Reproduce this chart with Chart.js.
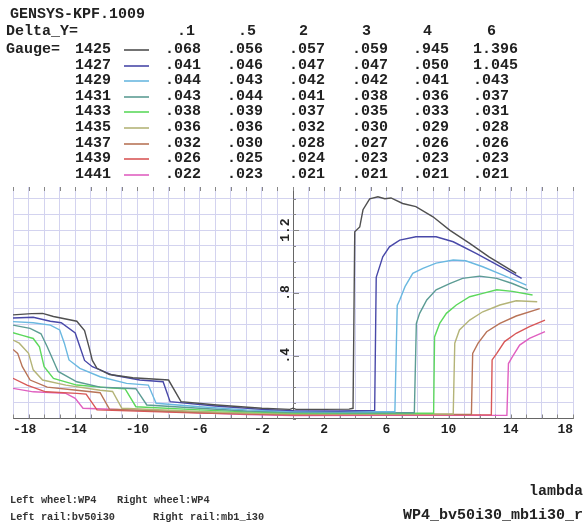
<!DOCTYPE html>
<html>
<head>
<meta charset="utf-8">
<script src="https://cdn.jsdelivr.net/npm/chart.js@4.4.0/dist/chart.umd.min.js"></script>
<style>
body { margin: 0; background: #fff; }
#wrap { position: relative; width: 587px; height: 524px; overflow: hidden;
        font-family: "Liberation Mono", "Courier New", monospace; font-weight: bold; color: #222; }
#wrap canvas { position: absolute; left: 0; top: 0; }
.t { position: absolute; white-space: pre; font-size: 15px; line-height: 18px; }
.s { position: absolute; white-space: pre; font-size: 10.3px; line-height: 12px; color: #333; }
.ln { position: absolute; height: 2px; width: 25px; opacity: 0.8; }
</style>
</head>
<body>
<div id="wrap">
  <canvas id="myChart" width="587" height="524"></canvas>
</div>
<script>
// header table
const title = 'GENSYS-KPF.1009';
const deltaY = ['.1', '.5', '2', '3', '4', '6'];
const gauges = [1425, 1427, 1429, 1431, 1433, 1435, 1437, 1439, 1441];
const tableValues = [
    ['.068', '.056', '.057', '.059', '.945', '1.396'],
    ['.041', '.046', '.047', '.047', '.050', '1.045'],
    ['.044', '.043', '.042', '.042', '.041', '.043'],
    ['.043', '.044', '.041', '.038', '.036', '.037'],
    ['.038', '.039', '.037', '.035', '.033', '.031'],
    ['.036', '.036', '.032', '.030', '.029', '.028'],
    ['.032', '.030', '.028', '.027', '.026', '.026'],
    ['.026', '.025', '.024', '.023', '.023', '.023'],
    ['.022', '.023', '.021', '.021', '.021', '.021']
];
const colors = ['#505050', '#4848a8', '#6ab8e0', '#5c9c94', '#5cd85c', '#b4b478', '#b87458', '#d85858', '#e060c0'];

// curves, [lambda, value]
const s1425 = [[-18,0.66],[-16.8,0.668],[-16.1,0.67],[-15.4,0.65],[-13.9,0.62],[-13.4,0.56],[-13.1,0.45],[-12.9,0.37],[-12.6,0.32],[-11.8,0.28],[-10.3,0.26],[-8.0,0.245],[-7.2,0.107],[-4.9,0.086],[-2,0.065],[-0.2,0.058],[0,0.066],[0.2,0.058],[2,0.058],[3.6,0.06],[3.86,0.065],[3.97,1.19],[4.29,1.22],[4.5,1.33],[4.93,1.40],[5.46,1.413],[5.9,1.40],[6.3,1.405],[7.05,1.37],[7.9,1.35],[9.0,1.285],[10.07,1.20],[11.36,1.116],[12.6,1.03],[14.35,0.925]];
const s1427 = [[-18,0.64],[-16.7,0.645],[-15.6,0.62],[-14.9,0.61],[-14.0,0.545],[-13.7,0.457],[-13.4,0.37],[-12.9,0.33],[-11.6,0.277],[-9.85,0.245],[-8.35,0.234],[-7.9,0.107],[-5,0.08],[-2,0.058],[0,0.05],[3,0.048],[5.25,0.052],[5.35,0.90],[5.77,1.03],[6.2,1.094],[6.86,1.137],[7.9,1.158],[9.2,1.158],[10.3,1.126],[11.8,1.05],[13.1,0.98],[14.7,0.893]];
const s1429 = [[-18,0.617],[-16.7,0.61],[-15.6,0.595],[-15.0,0.564],[-14.7,0.48],[-14.4,0.373],[-13.7,0.32],[-12.4,0.266],[-10.7,0.224],[-9.3,0.213],[-8.8,0.097],[-6,0.075],[-3,0.055],[0,0.045],[3,0.043],[6.55,0.043],[6.7,0.72],[6.86,0.755],[7.2,0.84],[7.7,0.925],[8.35,0.957],[9.2,0.99],[10.3,1.01],[11.1,1.005],[12.2,0.967],[13.5,0.914],[15.0,0.85]];
const s1431 = [[-18,0.595],[-17.5,0.585],[-16.9,0.574],[-16.2,0.54],[-15.8,0.457],[-15.1,0.30],[-13.9,0.234],[-12.4,0.20],[-10.1,0.19],[-9.4,0.086],[-6,0.065],[-3,0.048],[0,0.04],[4,0.037],[7.8,0.037],[7.93,0.606],[8.14,0.67],[8.6,0.755],[9.2,0.82],[10.07,0.86],[10.9,0.893],[12.0,0.907],[13.1,0.893],[14.1,0.86],[15.1,0.82]];
const s1433 = [[-18,0.547],[-17.4,0.53],[-16.7,0.51],[-16.3,0.457],[-16.0,0.33],[-15.4,0.256],[-13.9,0.213],[-11.8,0.195],[-10.8,0.19],[-10.1,0.075],[-6,0.055],[-3,0.042],[0,0.035],[4,0.033],[9.04,0.033],[9.1,0.52],[9.43,0.606],[9.86,0.67],[10.5,0.723],[11.36,0.776],[12.2,0.797],[13.1,0.82],[14.1,0.81],[15.4,0.787]];
const s1435 = [[-18,0.50],[-17.6,0.48],[-17.0,0.415],[-16.7,0.31],[-16.1,0.245],[-14.6,0.213],[-12.4,0.18],[-11.6,0.172],[-11.0,0.065],[-6,0.045],[-3,0.035],[0,0.03],[5,0.029],[10.3,0.029],[10.4,0.48],[10.7,0.564],[11.36,0.627],[12.2,0.68],[13.3,0.723],[14.35,0.75],[15.7,0.744]];
const s1437 = [[-18,0.44],[-17.7,0.415],[-17.4,0.33],[-16.9,0.245],[-15.8,0.20],[-13.9,0.18],[-12.4,0.164],[-11.8,0.06],[-6,0.04],[-3,0.032],[0,0.026],[5,0.026],[11.47,0.026],[11.55,0.415],[11.9,0.48],[12.45,0.553],[13.3,0.606],[14.35,0.653],[15.86,0.70]];
const s1439 = [[-18,0.256],[-17.1,0.213],[-15.9,0.17],[-13.9,0.16],[-13.3,0.155],[-12.6,0.055],[-6,0.035],[-3,0.028],[0,0.022],[6,0.023],[12.75,0.023],[12.8,0.373],[13.1,0.415],[13.6,0.49],[14.35,0.543],[15.2,0.585],[16.2,0.627]];
const s1441 = [[-18,0.192],[-16.7,0.17],[-14.6,0.16],[-14.0,0.128],[-13.5,0.065],[-8,0.045],[-3,0.025],[0,0.018],[6,0.02],[13.75,0.02],[13.85,0.35],[14.1,0.393],[14.57,0.468],[15.2,0.51],[16.2,0.553]];
const series = [s1425, s1427, s1429, s1431, s1433, s1435, s1437, s1439, s1441];

// axes
const xTicks = [];
for (let v = -18; v <= 18; v++) xTicks.push(v);
const xLabels = [-18, -14, -10, -6, -2, 2, 6, 10, 14, 18];
const yTicks = [];
for (let i = 0; i <= 14; i++) yTicks.push(i / 10);
const yLabelValues = [0.4, 0.8, 1.2];
const yLabels = ['.4', '.8', '1.2'];

const wrap = document.getElementById('wrap');
function addText(cls, txt, left, cy, right) {
    const d = document.createElement('div');
    d.className = cls;
    d.textContent = txt;
    if (right !== undefined) d.style.right = right + 'px'; else d.style.left = left + 'px';
    d.style.top = (cy - (cls === 't' ? 9 : 6)) + 'px';
    wrap.appendChild(d);
}

const headLeft = [177, 238, 299, 362, 423, 487];
const valLeft = [165, 227, 289, 352, 413, 473];
addText('t', title, 10, 15);
addText('t', 'Delta_Y=', 6, 32);
deltaY.forEach((d, i) => addText('t', d, headLeft[i], 32));
gauges.forEach((g, r) => {
    const cy = 50 + r * 15.6;
    if (r === 0) addText('t', 'Gauge=', 6, cy);
    addText('t', String(g), 75, cy);
    const ln = document.createElement('div');
    ln.className = 'ln';
    ln.style.left = '124px';
    ln.style.top = Math.round(cy - 1) + 'px';
    ln.style.background = colors[r];
    wrap.appendChild(ln);
    tableValues[r].forEach((v, i) => addText('t', v, valLeft[i], cy));
});
addText('t', 'lambda', 0, 492, 4);
addText('t', 'WP4_bv50i30_mb1i30_r', 0, 516, 4);
addText('s', 'Left wheel:WP4', 10, 500);
addText('s', 'Right wheel:WP4', 117, 500);
addText('s', 'Left rail:bv50i30', 10, 517);
addText('s', 'Right rail:mb1_i30', 153, 517);

// rotated y labels next to the axis at lambda = 0, plus small tick marks
const axisMarks = {
    id: 'axisMarks',
    beforeDatasetsDraw(chart) {
        const { ctx, chartArea, scales: { x, y } } = chart;
        const x0 = x.getPixelForValue(0);
        ctx.save();
        ctx.strokeStyle = '#888';
        ctx.lineWidth = 1;
        xTicks.forEach(v => {
            const px = Math.round(x.getPixelForValue(v)) + 0.5;
            ctx.beginPath();
            ctx.moveTo(px, chartArea.bottom);
            ctx.lineTo(px, chartArea.bottom - 4);
            ctx.moveTo(px, chartArea.top);
            ctx.lineTo(px, chartArea.top + 4);
            ctx.stroke();
        });
        yTicks.forEach(v => {
            const py = Math.round(y.getPixelForValue(v)) + 0.5;
            ctx.beginPath();
            ctx.moveTo(x0, py);
            ctx.lineTo(x0 + (yLabelValues.includes(v) ? 6 : 3), py);
            ctx.stroke();
        });
        ctx.font = 'bold 13px "Liberation Mono"';
        ctx.fillStyle = '#222';
        ctx.textAlign = 'center';
        ctx.textBaseline = 'middle';
        yLabelValues.forEach((v, i) => {
            const py = y.getPixelForValue(v);
            ctx.save();
            ctx.translate(x0 - 7, py);
            ctx.rotate(-Math.PI / 2);
            ctx.fillText(yLabels[i], 0, 0);
            ctx.restore();
        });
        ctx.restore();
    }
};

const ctx = document.getElementById('myChart').getContext('2d');
const myChart = new Chart(ctx, {
    type: 'line',
    data: {
        datasets: gauges.map((g, i) => ({
            label: String(g),
            data: series[i].map(p => ({ x: p[0], y: p[1] })),
            borderColor: colors[i],
            borderWidth: 1.4,
            pointRadius: 0,
            tension: 0,
            fill: false
        }))
    },
    options: {
        responsive: false,
        animation: false,
        events: [],
        layout: { padding: { left: 13, right: 14, top: 187, bottom: 85.5 } },
        plugins: { legend: { display: false }, tooltip: { enabled: false } },
        scales: {
            x: {
                type: 'linear',
                min: -18,
                max: 18,
                afterBuildTicks: s => { s.ticks = xTicks.map(v => ({ value: v })); },
                afterFit: s => { s.height = 20; },
                grid: { color: '#d3d3ef', drawTicks: false },
                border: { color: '#666' },
                ticks: {
                    autoSkip: false,
                    maxRotation: 0,
                    align: 'inner',
                    padding: 3,
                    color: '#222',
                    font: { family: 'Liberation Mono', size: 13, weight: 'bold' },
                    callback: v => xLabels.includes(v) ? String(v) : ''
                }
            },
            y: {
                type: 'linear',
                position: { x: 0 },
                min: 0,
                max: 1.475,
                afterBuildTicks: s => { s.ticks = yTicks.map(v => ({ value: v })); },
                grid: { color: '#d3d3ef', drawTicks: false },
                border: { color: '#666' },
                ticks: { display: false }
            }
        }
    },
    plugins: [axisMarks]
});
</script>
</body>
</html>
